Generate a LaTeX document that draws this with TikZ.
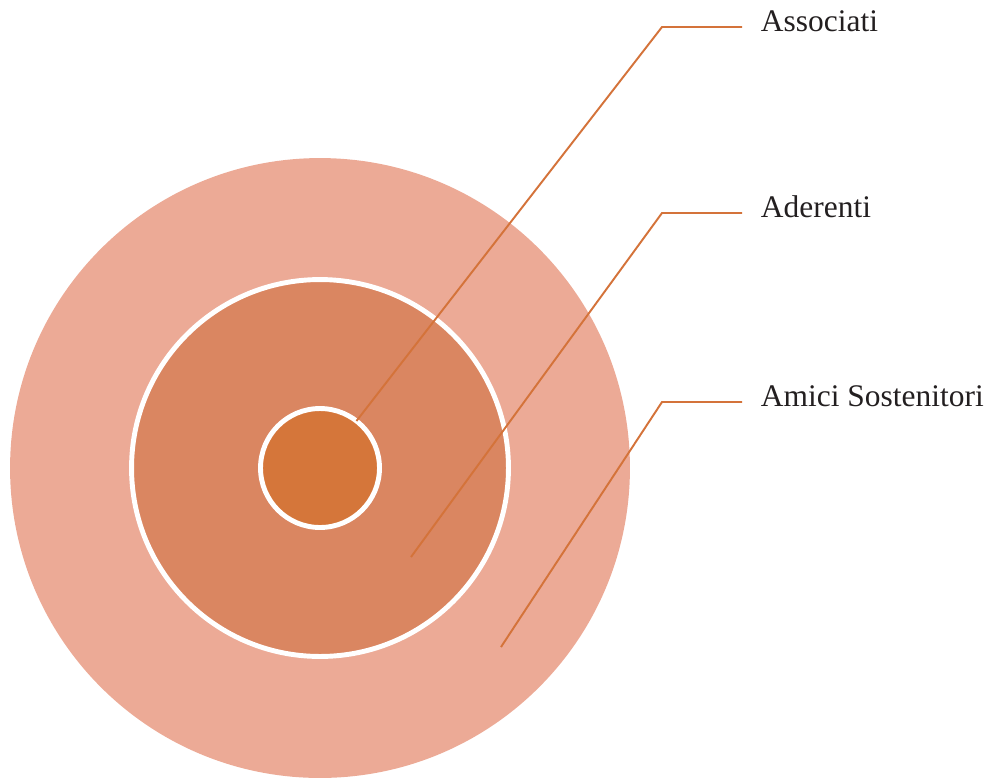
\documentclass[tikz,border=0pt]{standalone}
\usepackage{fontspec}
\setmainfont{Liberation Serif}
\definecolor{ringouter}{HTML}{ECAA96}
\definecolor{ringmid}{HTML}{DA8661}
\definecolor{ringcore}{HTML}{D5763A}
\definecolor{leadcol}{HTML}{D4733A}
\definecolor{labeltext}{HTML}{231F20}

\begin{document}
\begin{tikzpicture}[x=0.02cm, y=-0.02cm, line width=1.1pt]
  \tikzset{lbl/.style={anchor=base west, inner sep=0pt, font=\fontsize{17.9}{21}\selectfont, text=labeltext},
           leader/.style={draw=leadcol, line width=1.1pt}}
  \useasboundingbox (0,0) rectangle (986,778);
  % concentric discs, outer one without white rim
  \foreach \n/\d/\c/\r in {outer/12.4cm/ringouter/none, middle/7.54cm/ringmid/white, core/2.38cm/ringcore/white}{
    \node[circle, draw=\r, line width=2.8pt, fill=\c, minimum size=\d, inner sep=0pt, outer sep=0pt] (\n) at (320,468) {};
  }
  % labels and their bends
  \foreach \n/\y/\t in {assoc/27/Associati, ader/213/Aderenti, amici/402/Amici Sostenitori}{
    \node[lbl] (\n) at (760,\y+4) {\t};
    \coordinate (\n-bend) at (662,\y);
  }
  \coordinate (ader-end) at (411,557);
  \coordinate (amici-end) at (501,647);
  % leader lines
  \draw[leader] ([xshift=-0.36cm]assoc.base west |- assoc-bend) -- (assoc-bend) -- (core);
  \draw[leader] ([xshift=-0.36cm]ader.base west |- ader-bend) -- (ader-bend) -- (ader-end);
  \draw[leader] ([xshift=-0.36cm]amici.base west |- amici-bend) -- (amici-bend) -- (amici-end);
\end{tikzpicture}
\end{document}
